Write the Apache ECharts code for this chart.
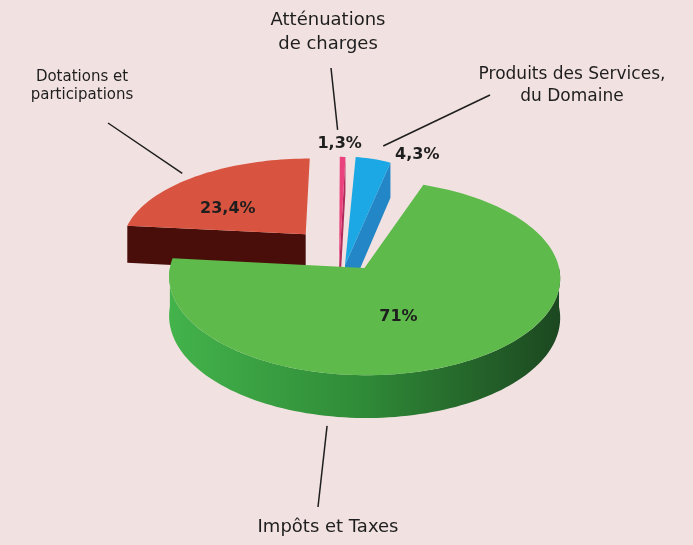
<!DOCTYPE html>
<html>
<head>
<meta charset="utf-8">
<script src="https://cdn.jsdelivr.net/npm/echarts@6/dist/echarts.min.js"></script>
<style>
html, body { margin: 0; padding: 0; background: #f1e2e1; }
#chart { width: 693px; height: 545px; }
</style>
</head>
<body>
<div id="chart"></div>
<script>
// data, in clockwise order starting at 12 o'clock
var categories = ['Atténuations\nde charges', 'Produits des Services,\ndu Domaine', 'Impôts et Taxes', 'Dotations et\nparticipations'];
var shares = [1.3, 4.3, 71, 23.4];
var shareLabels = ['1,3%', '4,3%', '71%', '23,4%'];

// fake 3d look: a bit of perspective and thickness
var PERSP = 0.1, DEPTH = 0.2;
var FONT = '"DejaVu Sans", "Liberation Sans", sans-serif';

var greenWall = {
    type: 'linear', x: 0, y: 0, x2: 1, y2: 0,
    colorStops: [
        {offset: 0, color: '#43b34b'},
        {offset: 0.5, color: '#2f8a37'},
        {offset: 1, color: '#1c4720'}
    ]
};

// per slice look (offset = explode vector on the disc plane, sx/tilt = squash)
var sliceStyles = [
    {offset: [-0.03, 0.0], sx: 0.4, tilt: 0.62, top: '#e9427d', side: '#b02a5a', z: 2,
     label: {inside: false, dx: -3, dy: -13},
     name: {x: 328, y: 32, size: 18, lh: 24},
     leader: {from: [-5, -27], to: [331, 68]}},
    {offset: [0, 0.0], sx: 0.75, tilt: 0.62, top: '#1ba8e4', side: '#2386c6', z: 3,
     label: {inside: false, dx: 44, dy: -4},
     name: {x: 572, y: 86, size: 17, lh: 22},
     leader: {from: [10, -13], to: [490, 95]}},
    {offset: [0.1, 0.03], sx: 1, tilt: 0.5, top: '#5dba4b', side: greenWall, z: 4,
     label: {inside: true, frac: 0.45, dx: -15, dy: 10},
     name: {x: 328, y: 527, size: 18, lh: 22},
     leader: {angle: 190.6, bottom: true, from: [0, 10], to: [318, 507]}},
    {offset: [-0.21, -0.35], sx: 0.97, tilt: 0.47, top: '#d95440', side: '#4a0e0a', z: 1,
     label: {inside: true, frac: 0.6, dx: -10, dy: 11},
     name: {x: 82, y: 86, size: 15, lh: 18},
     leader: {from: [-14, -3], to: [108, 123]}}
];

var total = shares.reduce(function (a, b) { return a + b; }, 0);

function renderSlice(params, api) {
    var i = params.dataIndex;
    var before = 0;
    for (var j = 0; j < i; j++) before += shares[j];
    var a0 = before / total * Math.PI * 2;
    var a1 = (before + api.value(1)) / total * Math.PI * 2;
    var st = sliceStyles[i];
    var ou = st.offset[0], ov = st.offset[1];

    // u: right, v: towards viewer, h: down (thickness)
    function pt(u, v, h) {
        var k = 1 + PERSP * v;
        return api.coord([u * k, -(v * st.tilt + (h || 0)) * k]);
    }
    function rim(a, h, r) {
        r = r === undefined ? 1 : r;
        return pt(ou + st.sx * r * Math.sin(a), ov - r * Math.cos(a), h);
    }
    function arc(from, to, h) {
        var n = Math.max(2, Math.ceil((to - from) / 0.03));
        var pts = [];
        for (var s = 0; s <= n; s++) pts.push(rim(from + (to - from) * s / n, h));
        return pts;
    }

    var base = st.z * 10;
    var children = [];
    var apexTop = pt(ou, ov, 0), apexBot = pt(ou, ov, DEPTH);

    // radial walls that face the viewer
    if (Math.sin(a0) < -1e-6) {
        children.push({type: 'polygon', z2: base,
            shape: {points: [apexTop, rim(a0), rim(a0, DEPTH), apexBot]},
            style: {fill: st.side}});
    }
    if (Math.sin(a1) > 1e-6) {
        children.push({type: 'polygon', z2: base,
            shape: {points: [apexTop, rim(a1), rim(a1, DEPTH), apexBot]},
            style: {fill: st.side}});
    }
    // outer wall, front half only
    var w0 = Math.max(a0, Math.PI / 2), w1 = Math.min(a1, Math.PI * 1.5);
    if (w1 > w0) {
        var wall = arc(w0, w1, 0).concat(arc(w0, w1, DEPTH).reverse());
        children.push({type: 'polygon', z2: base + 1,
            shape: {points: wall}, style: {fill: st.side}});
    }
    // top face
    children.push({type: 'polygon', z2: base + 2,
        shape: {points: [apexTop].concat(arc(a0, a1, 0))},
        style: {fill: st.top}});

    // percentage label
    var mid = (a0 + a1) / 2;
    var lp = st.label.inside ? rim(mid, 0, st.label.frac) : rim(mid, 0);
    children.push({type: 'text', z2: 200,
        x: lp[0] + st.label.dx, y: lp[1] + st.label.dy,
        style: {text: shareLabels[i], fill: '#1e1e1e', fontFamily: FONT,
            fontSize: 16, fontWeight: 'bold', align: 'center', verticalAlign: 'middle'}});

    // leader line + category name
    var ld = st.leader;
    var anchor = ld.angle !== undefined
        ? rim(ld.angle * Math.PI / 180, ld.bottom ? DEPTH : 0)
        : rim(mid, 0);
    children.push({type: 'line', z2: 200,
        shape: {x1: anchor[0] + ld.from[0], y1: anchor[1] + ld.from[1], x2: ld.to[0], y2: ld.to[1]},
        style: {stroke: '#1e1e1e', lineWidth: 1.5}});
    children.push({type: 'text', z2: 200,
        x: st.name.x, y: st.name.y,
        style: {text: categories[i], fill: '#1e1e1e', fontFamily: FONT,
            fontSize: st.name.size, lineHeight: st.name.lh,
            align: 'center', verticalAlign: 'middle'}});

    return {type: 'group', children: children};
}

var chart = echarts.init(document.getElementById('chart'));

// 1 axis unit = 194px on both axes, disc centre at (345, 265)
var option = {
    backgroundColor: '#f1e2e1',
    animation: false,
    grid: {left: 0, right: 0, top: 0, bottom: 0},
    xAxis: {type: 'value', min: -345 / 194, max: 348 / 194, show: false},
    yAxis: {type: 'value', min: -280 / 194, max: 265 / 194, show: false},
    series: [{
        type: 'custom',
        renderItem: renderSlice,
        data: shares.map(function (v, i) { return [i, v]; }),
        encode: {x: -1, y: -1}
    }]
};
chart.setOption(option);
</script>
</body>
</html>
